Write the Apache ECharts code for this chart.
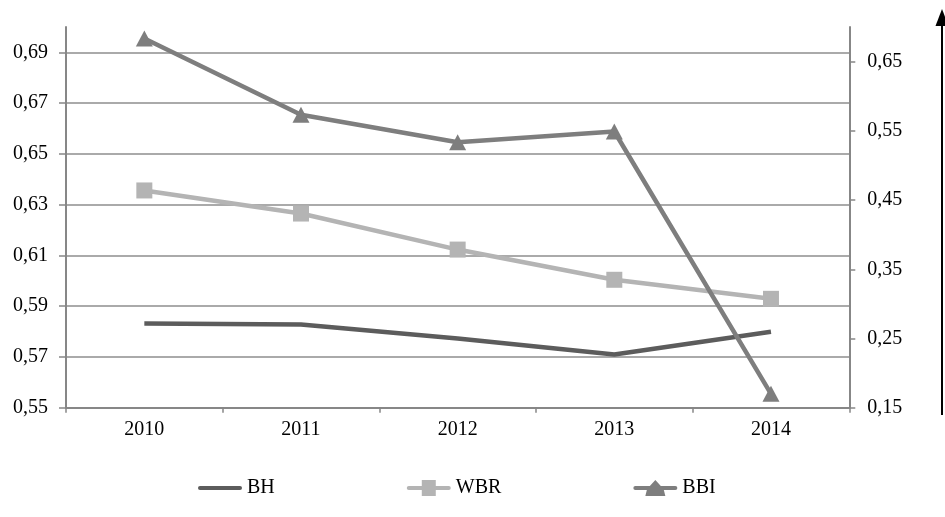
<!DOCTYPE html>
<html>
<head>
<meta charset="utf-8">
<script src="https://cdn.jsdelivr.net/npm/echarts@6/dist/echarts.min.js"></script>
<style>html,body{margin:0;padding:0;background:#fff}#c{width:945px;height:517px}</style>
</head>
<body>
<div id="c"></div>
<script>
const years = ['2010', '2011', '2012', '2013', '2014'];
const seriesNames = ['BH', 'WBR', 'BBI'];
const bh  = [0.5832, 0.5828, 0.5773, 0.5710, 0.5799];
const wbr = [0.6356, 0.6265, 0.6123, 0.6004, 0.5929];
const bbi = [0.6833, 0.5731, 0.5336, 0.5490, 0.1700];

const FONT = "'Liberation Serif', 'Times New Roman', serif";
const fmt = v => v.toFixed(2).replace('.', ',');

const legendIcons = [
  'path://M2,6H42A2,2 0 0 1 42,10H2A2,2 0 0 1 2,6Z',
  'path://M2,6H15V0H29V6H42A2,2 0 0 1 42,10H29V16H15V10H2A2,2 0 0 1 2,6Z',
  'path://M2,6H16.5L22,0L27.5,6H42A2,2 0 0 1 42,10H30.5L32,16H12L13.5,10H2A2,2 0 0 1 2,6Z'
];

const chart = echarts.init(document.getElementById('c'), null, {renderer: 'canvas'});
chart.setOption({
  animation: false,
  backgroundColor: '#ffffff',
  textStyle: {fontFamily: FONT},
  grid: {left: 66, right: 95.7, top: 27, bottom: 109.3, containLabel: false},
  legend: {
    data: seriesNames.map((n, i) => ({name: n, icon: legendIcons[i]})),
    left: 198, top: 478, padding: 0,
    itemWidth: 44, itemHeight: 16, itemGap: 132,
    textStyle: {fontFamily: FONT, fontSize: 20, color: '#000', padding: [0, 0, 0, 0]}
  },
  xAxis: {
    type: 'category', data: years, boundaryGap: true,
    axisLine: {lineStyle: {color: '#878787', width: 2}},
    axisTick: {show: true, length: 5, lineStyle: {color: '#878787', width: 1.5}},
    axisLabel: {fontFamily: FONT, fontSize: 20, color: '#000', margin: 12}
  },
  yAxis: [{
    type: 'value', position: 'left', min: 0.55, max: 0.70, interval: 0.02,
    axisLine: {show: true, lineStyle: {color: '#878787', width: 2}},
    axisTick: {show: true, length: 7, lineStyle: {color: '#878787', width: 1.5}},
    axisLabel: {fontFamily: FONT, fontSize: 20, color: '#000', margin: 18, showMaxLabel: false, formatter: fmt},
    splitLine: {show: true, showMaxLine: false, lineStyle: {color: '#8e8e8e', width: 1.5}}
  }, {
    type: 'value', position: 'right', min: 0.15, max: 0.70, interval: 0.1,
    axisLine: {show: true, lineStyle: {color: '#878787', width: 2}},
    axisTick: {show: true, length: 6, lineStyle: {color: '#878787', width: 1.5}},
    axisLabel: {fontFamily: FONT, fontSize: 20, color: '#000', margin: 18, showMaxLabel: false, formatter: fmt},
    splitLine: {show: false}
  }],
  series: [{
    name: seriesNames[0], type: 'line', data: bh, yAxisIndex: 0,
    symbol: 'none', lineStyle: {color: '#5c5c5c', width: 4.5}, itemStyle: {color: '#5c5c5c'}
  }, {
    name: seriesNames[1], type: 'line', data: wbr, yAxisIndex: 0,
    symbol: 'rect', symbolSize: 16,
    lineStyle: {color: '#b4b4b4', width: 4.5}, itemStyle: {color: '#b4b4b4'}
  }, {
    name: seriesNames[2], type: 'line', data: bbi, yAxisIndex: 1,
    symbol: 'triangle', symbolSize: [17, 16],
    lineStyle: {color: '#7e7e7e', width: 4.5}, itemStyle: {color: '#7e7e7e'}
  }],
  graphic: [{
    type: 'line', shape: {x1: 942, y1: 415, x2: 942, y2: 22},
    style: {stroke: '#000', lineWidth: 2}
  }, {
    type: 'polygon', shape: {points: [[942, 9], [935.5, 26], [948.5, 26]]},
    style: {fill: '#000'}
  }]
});
</script>
</body>
</html>
